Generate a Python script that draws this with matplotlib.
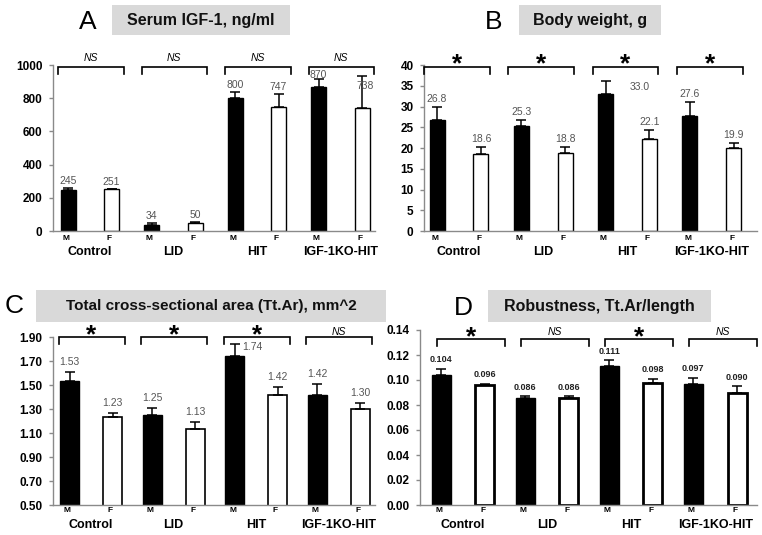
import matplotlib
matplotlib.use('Agg')
import matplotlib.pyplot as plt
from matplotlib.patches import Rectangle
import numpy as np

plt.rcParams['font.family'] = ['Liberation Sans', 'DejaVu Sans']

# ---------------- data ----------------
groups = ['Control', 'LID', 'HIT', 'IGF-1KO-HIT']
sexes = ['M', 'F']

igf_m = [245, 34, 800, 870]
igf_f = [251, 50, 747, 738]
igf_m_err = [12, 12, 40, 44]
igf_f_err = [5, 4, 80, 196]
igf_sig = ['NS', 'NS', 'NS', 'NS']
igf_ticks = [0, 200, 400, 600, 800, 1000]

bw_m = [26.8, 25.3, 33.0, 27.6]
bw_f = [18.6, 18.8, 22.1, 19.9]
bw_m_err = [3.0, 1.4, 3.1, 3.6]
bw_f_err = [1.6, 1.5, 2.2, 1.2]
bw_sig = ['*', '*', '*', '*']
bw_ticks = [0, 5, 10, 15, 20, 25, 30, 35, 40]

tt_m = [1.53, 1.25, 1.74, 1.42]
tt_f = [1.23, 1.13, 1.42, 1.30]
tt_m_err = [0.08, 0.06, 0.10, 0.09]
tt_f_err = [0.04, 0.06, 0.06, 0.05]
tt_sig = ['*', '*', '*', 'NS']
tt_ticks = [0.50, 0.70, 0.90, 1.10, 1.30, 1.50, 1.70, 1.90]

rb_m = [0.104, 0.086, 0.111, 0.097]
rb_f = [0.096, 0.086, 0.098, 0.090]
rb_m_err = [0.005, 0.001, 0.005, 0.005]
rb_f_err = [0.001, 0.001, 0.003, 0.005]
rb_sig = ['*', 'NS', '*', 'NS']
rb_ticks = [0.00, 0.02, 0.04, 0.06, 0.08, 0.10, 0.12, 0.14]

# ---------------- layout ----------------
W, H = 762, 535
fig = plt.figure(figsize=(W / 100, H / 100), dpi=100)


def fx(x):
    return x / W


def fy(y):
    return 1 - y / H


SPINE = '#8a8a8a'
BOXC = '#d9d9d9'
GROUP_STEP = 1.92


def title(letter, lx, ly, text, box, tsize=11.5):
    x0, y0, x1, y1 = box
    fig.patches.append(Rectangle((fx(x0), fy(y1)), (x1 - x0) / W, (y1 - y0) / H,
                                 transform=fig.transFigure, facecolor=BOXC,
                                 edgecolor='none', zorder=0))
    fig.text(fx((x0 + x1) / 2), fy((y0 + y1) / 2), text, ha='center', va='center',
             fontsize=tsize, fontweight='bold', color='#111111')
    fig.text(fx(lx), fy(ly), letter, ha='center', va='center', fontsize=19,
             color='black')


def panel(box, first, unit, ylim, ticks, fmt, m, f, me, fe, sig,
          barw, flw, br_y, br_off, lab_dy, lab_style, overrides,
          mf_dy, grp_dy, sig_dy_star, sig_dy_ns):
    left, right, top, bottom = box
    ax = fig.add_axes([fx(left), fy(bottom), (right - left) / W, (bottom - top) / H])
    ax.set_xlim((left - first) / unit, (right - first) / unit)
    ax.set_ylim(ylim)
    ypp = (ylim[1] - ylim[0]) / (bottom - top)  # data units per pixel

    pm = np.arange(len(groups)) * GROUP_STEP
    pf = pm + 1
    bw = barw / unit
    ax.bar(pm, m, width=bw, color='black', edgecolor='black', linewidth=1, zorder=2)
    ax.bar(pf, f, width=bw, color='white', edgecolor='black', linewidth=flw, zorder=2)
    ax.errorbar(pm, m, yerr=[np.zeros(len(m)), me], fmt='none', ecolor='black',
                elinewidth=1.1, capsize=3.5, capthick=1.1, zorder=3)
    ax.errorbar(pf, f, yerr=[np.zeros(len(f)), fe], fmt='none', ecolor='black',
                elinewidth=1.1, capsize=3.5, capthick=1.1, zorder=3)

    for sp in ['top', 'right']:
        ax.spines[sp].set_visible(False)
    for sp in ['left', 'bottom']:
        ax.spines[sp].set_color(SPINE)
        ax.spines[sp].set_linewidth(1)
    ax.set_xticks([])
    ax.set_yticks(ticks)
    ax.set_yticklabels([fmt.format(t) for t in ticks], fontweight='bold', fontsize=8.5)
    ax.tick_params(axis='y', length=3, width=1, color=SPINE, pad=4.5)
    ax.patch.set_alpha(0)

    # value labels
    for i in range(len(groups)):
        for sx, pos, val, err in (('M', pm[i], m[i], me[i]), ('F', pf[i], f[i], fe[i])):
            key = (sx, i)
            if key in overrides:
                dx, dy = overrides[key]
                anchor = val
            else:
                dx, dy = 0, lab_dy
                anchor = val + err
            ax.annotate(lab_style['fmt'].format(val), (pos, anchor), xytext=(dx, dy),
                        textcoords='offset pixels', ha='center', va='center',
                        fontsize=lab_style['size'], fontweight=lab_style['weight'],
                        color=lab_style['color'], zorder=4, annotation_clip=False)
            ax.annotate(sx, (pos - 0.05, ylim[0]), xytext=(0, mf_dy), textcoords='offset pixels',
                        ha='center', va='center', fontsize=6, fontweight='bold',
                        annotation_clip=False)
        ax.annotate(groups[i], ((pm[i] + pf[i]) / 2, ylim[0]), xytext=(0, grp_dy),
                    textcoords='offset pixels', ha='center', va='center', fontsize=9,
                    fontweight='bold', annotation_clip=False)

        # brackets
        xa = pm[i] + br_off[0] / unit
        xb = pf[i] + br_off[1] / unit
        tick = 7 * ypp
        ax.plot([xa, xa, xb, xb], [br_y - tick, br_y, br_y, br_y - tick], color='black',
                linewidth=1.2, clip_on=False, zorder=3, solid_joinstyle='miter')
        if sig[i] == '*':
            ax.annotate('*', ((xa + xb) / 2, br_y), xytext=(0, sig_dy_star),
                        textcoords='offset pixels', ha='center', va='center',
                        fontsize=19, fontweight='bold', annotation_clip=False)
        else:
            ax.annotate('NS', ((xa + xb) / 2, br_y), xytext=(0, sig_dy_ns),
                        textcoords='offset pixels', ha='center', va='center',
                        fontsize=7.5, fontstyle='italic', annotation_clip=False)
    return ax


gray_lab = {'fmt': '{}', 'size': 7.5, 'weight': 'normal', 'color': '#555555'}

# Panel A
title('A', 88, 22, 'Serum IGF-1, ng/ml', (112, 5, 290, 35))
panel((53, 375, 65, 231), 68, 43.5, (0, 1000), igf_ticks, '{:.0f}',
      igf_m, igf_f, igf_m_err, igf_f_err, igf_sig,
      15, 1.0, 988, (-10, 12), 7, dict(gray_lab, fmt='{:.0f}'),
      {('F', 3): (3, 22), ('M', 3): (0, 12)}, -7, -21, 2, 9)

# Panel B
title('B', 494, 22, 'Body weight, g', (519, 5, 661, 35))
panel((424, 757, 65, 231), 437, 43.9, (0, 40), bw_ticks, '{:.0f}',
      bw_m, bw_f, bw_m_err, bw_f_err, bw_sig,
      15, 1.0, 39.6, (-13, 9), 8, dict(gray_lab, fmt='{:.1f}'),
      {('M', 2): (34, 7)}, -7, -21, 2, 9)

# Panel C
title('C', 14, 306, 'Total cross-sectional area (Tt.Ar), mm^2', (36, 290, 386, 322), tsize=11)
panel((53, 375, 337, 505), 69.5, 43.0, (0.5, 1.9), tt_ticks, '{:.2f}',
      tt_m, tt_f, tt_m_err, tt_f_err, tt_sig,
      19, 1.2, 1.9, (-11, 12), 10, dict(gray_lab, fmt='{:.2f}'),
      {('M', 2): (18, 9)}, -6, -20, 2, 5)

# Panel D
title('D', 463, 308, 'Robustness, Tt.Ar/length', (488, 290, 711, 322))
panel((420, 757, 330, 505), 441, 43.8, (0.0, 0.14), rb_ticks, '{:.2f}',
      rb_m, rb_f, rb_m_err, rb_f_err, rb_sig,
      19, 2.0, 0.1328, (-4, 20), 9,
      {'fmt': '{:.3f}', 'size': 6.5, 'weight': 'bold', 'color': '#222222'},
      {}, -6, -20, 2, 7)

fig.savefig('out.png', dpi=100)
